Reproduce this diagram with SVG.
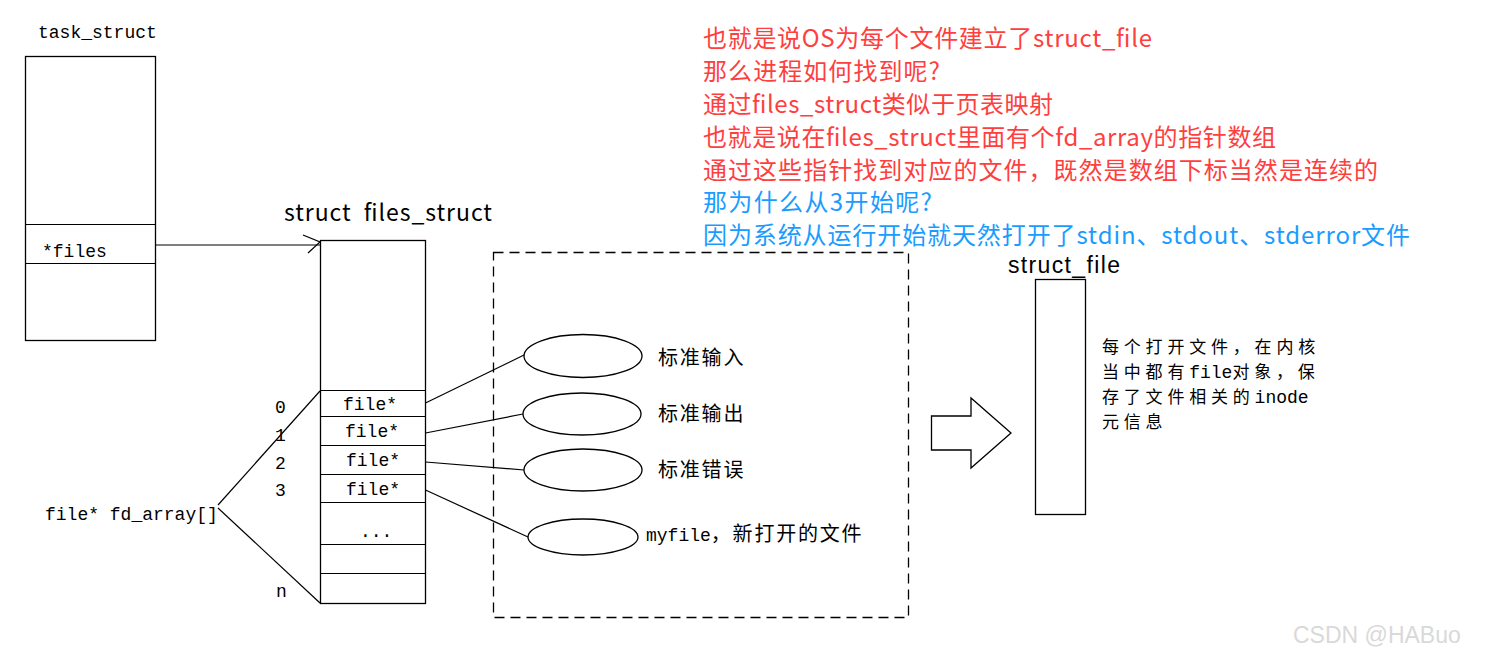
<svg xmlns="http://www.w3.org/2000/svg" width="1487" height="661" viewBox="0 0 1487 661">
<style>
.box{fill:#fff;stroke:#000;stroke-width:1.3}
.ln{fill:none;stroke:#000;stroke-width:1.2}
.mono{font-family:"Liberation Mono","DejaVu Sans Mono",monospace;font-size:18px;fill:#000}
.cjk{font-family:"Noto Sans CJK SC",sans-serif;font-size:20px;letter-spacing:1.8px;fill:#000}
.cjk .m{font-family:"Liberation Mono",monospace;font-size:18px;letter-spacing:0}
.cjk2{font-family:"Noto Sans CJK SC",sans-serif;font-size:17px;letter-spacing:4.8px;fill:#000}
.cjk2 .m{font-family:"Liberation Mono",monospace;font-size:18px;letter-spacing:0}
.title{font-family:"Noto Sans CJK SC","Liberation Sans",sans-serif;font-size:23px;fill:#000;white-space:pre}
.title2{font-family:"Liberation Sans",Arial,sans-serif;font-size:23px;fill:#000}
.red{font-family:"Noto Sans CJK SC",sans-serif;font-size:24px;fill:#ff3e3e}
.blue{font-family:"Noto Sans CJK SC",sans-serif;font-size:24px;fill:#1a9cff}
</style>
<rect width="1487" height="661" fill="#fff"/>

<g id="notes">
<text class="red" x="703" y="47" textLength="449">也就是说OS为每个文件建立了struct_file</text>
<text class="red" x="703" y="80" textLength="237">那么进程如何找到呢?</text>
<text class="red" x="703" y="113" textLength="350">通过files_struct类似于页表映射</text>
<text class="red" x="703" y="146" textLength="573">也就是说在files_struct里面有个fd_array的指针数组</text>
<text class="red" x="703" y="179" textLength="675">通过这些指针找到对应的文件，既然是数组下标当然是连续的</text>
<text class="blue" x="703" y="211" textLength="229">那为什么从3开始呢?</text>
<text class="blue" x="703" y="244" textLength="707">因为系统从运行开始就天然打开了stdin、stdout、stderror文件</text>
</g>

<g id="task_struct">
<text class="mono" x="38" y="38">task_struct</text>
<rect class="box" x="25.5" y="56.5" width="130" height="284"/>
<line class="ln" x1="25.5" y1="224.5" x2="155.5" y2="224.5"/>
<line class="ln" x1="25.5" y1="263.5" x2="155.5" y2="263.5"/>
<text class="mono" x="42" y="257">*files</text>
</g>

<g id="files_struct">
<text class="title" x="284" y="221" textLength="208" xml:space="preserve">struct  files_struct</text>
<rect class="box" x="320.5" y="240.5" width="105" height="363"/>
<line class="ln" x1="320.5" y1="390.5" x2="425.5" y2="390.5"/>
<line class="ln" x1="320.5" y1="416.5" x2="425.5" y2="416.5"/>
<line class="ln" x1="320.5" y1="445.5" x2="425.5" y2="445.5"/>
<line class="ln" x1="320.5" y1="474.5" x2="425.5" y2="474.5"/>
<line class="ln" x1="320.5" y1="502.5" x2="425.5" y2="502.5"/>
<line class="ln" x1="320.5" y1="544.5" x2="425.5" y2="544.5"/>
<line class="ln" x1="320.5" y1="573.5" x2="425.5" y2="573.5"/>
<text class="mono" x="343" y="410">file*</text>
<text class="mono" x="345" y="437">file*</text>
<text class="mono" x="346" y="466">file*</text>
<text class="mono" x="346" y="495">file*</text>
<text class="mono" x="360" y="537">...</text>
<text class="mono" x="275" y="413">0</text>
<text class="mono" x="275" y="441">1</text>
<text class="mono" x="275" y="469">2</text>
<text class="mono" x="275" y="496">3</text>
<text class="mono" x="276" y="597">n</text>
</g>

<g id="fd_array">
<text class="mono" x="45" y="520">file* fd_array[]</text>
</g>

<g id="open_files">
<rect x="493.5" y="252.5" width="415" height="365" fill="none" stroke="#000" stroke-width="1.3" stroke-dasharray="10 6"/>
<ellipse class="box" cx="583" cy="356" rx="59" ry="21.5"/>
<ellipse class="box" cx="582" cy="414" rx="59" ry="21"/>
<ellipse class="box" cx="583" cy="470" rx="59" ry="21"/>
<ellipse class="box" cx="583" cy="537" rx="55" ry="18"/>
<text class="cjk" x="658" y="365">标准输入</text>
<text class="cjk" x="658" y="421">标准输出</text>
<text class="cjk" x="658" y="477">标准错误</text>
<text class="cjk" x="646" y="541"><tspan class="m">myfile</tspan>，新打开的文件</text>
</g>

<g id="big_arrow">
<polygon points="931.5,416 971,416 971,398 1011,433 971,468 971,450 931.5,450" fill="#fff" stroke="#000" stroke-width="1.3"/>
</g>

<g id="struct_file">
<text class="title2" x="1008" y="273" textLength="112">struct_file</text>
<rect class="box" x="1035.5" y="279.5" width="50" height="235"/>
<text class="cjk2" x="1102" y="353">每个打开文件，在内核</text>
<text class="cjk2" x="1102" y="378">当中都有<tspan class="m">file</tspan>对象，保</text>
<text class="cjk2" x="1102" y="403">存了文件相关的<tspan class="m">inode</tspan></text>
<text class="cjk2" x="1102" y="428">元信息</text>
</g>

<g id="connectors">
<line class="ln" x1="155.5" y1="245" x2="320" y2="245"/>
<polyline class="ln" points="303,235 320,242 308,253"/>
<line class="ln" x1="218" y1="505" x2="320" y2="391"/>
<line class="ln" x1="218" y1="508" x2="320" y2="603"/>
<line class="ln" x1="425.5" y1="403" x2="524" y2="355"/>
<line class="ln" x1="425.5" y1="433" x2="523" y2="414"/>
<line class="ln" x1="425.5" y1="462" x2="524" y2="470"/>
<line class="ln" x1="425.5" y1="490" x2="528" y2="537"/>
</g>

<g id="watermark">
<text x="1293" y="643" font-family="Liberation Sans, Arial, sans-serif" font-size="23" fill="#d9d9d9">CSDN @HABuo</text>
</g>
</svg>
